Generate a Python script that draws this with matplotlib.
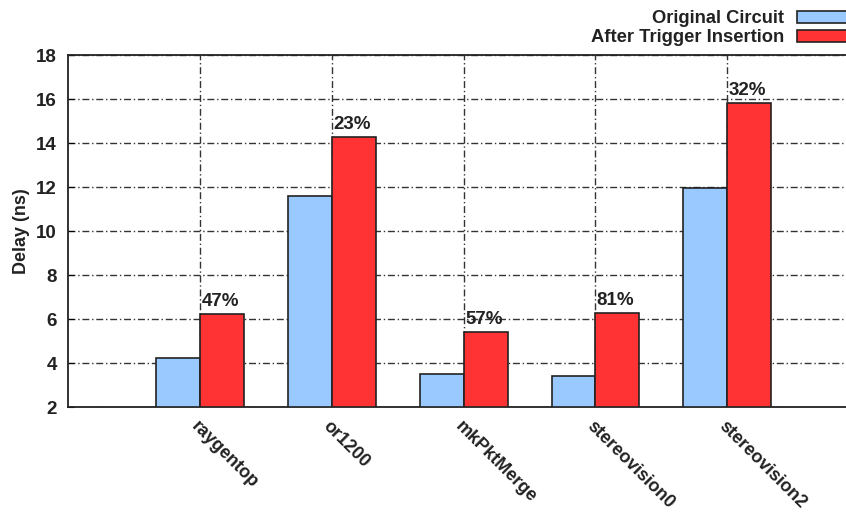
import matplotlib
matplotlib.use("Agg")
import matplotlib.pyplot as plt
import numpy as np

categories = ["raygentop", "or1200", "mkPktMerge", "stereovision0", "stereovision2"]
original = [4.23, 11.6, 3.5, 3.42, 11.95]
after = [6.23, 14.27, 5.42, 6.28, 15.83]
increase_labels = ["47%", "23%", "57%", "81%", "32%"]
series_names = ["Original Circuit", "After Trigger Insertion"]

plt.rcParams['font.family'] = ['Liberation Sans', 'DejaVu Sans']
plt.rcParams['font.weight'] = 'bold'

fig = plt.figure(figsize=(8.46, 5.13), dpi=100)
ax = fig.add_axes([68/846, 106/513, 1 - 68/846, 352/513])

x = np.arange(len(categories))
w = 0.333
b1 = ax.bar(x - w/2, [v - 2 for v in original], w, bottom=2, color='#99c9ff',
            edgecolor='#222222', linewidth=1.2, label=series_names[0], zorder=3)
b2 = ax.bar(x + w/2, [v - 2 for v in after], w, bottom=2, color='#ff3333',
            edgecolor='#222222', linewidth=1.2, label=series_names[1], zorder=3)

for xi, v, t in zip(x, after, increase_labels):
    ax.annotate(t, (xi, v), xytext=(1, 3), textcoords='offset points',
                ha='left', va='bottom', fontsize=13.5, fontweight='bold', color='#222222', zorder=4)

ax.set_xlim(-1, 4.9)
ax.set_ylim(2, 18)
ax.set_yticks(range(2, 19, 2))
ax.set_xticks(x)
ax.set_xticklabels(categories, rotation=-45, ha='left', va='top', rotation_mode='anchor',
                   fontsize=13, fontweight='bold')
for lbl in ax.get_xticklabels():
    lbl.set_color('#222222')
ax.tick_params(axis='x', length=0, pad=8)
ax.tick_params(axis='y', direction='in', length=4, labelsize=13.5, pad=8, labelcolor='#222222')
ax.grid(True, linestyle=(0, (5, 2, 1, 2)), color='#333333', linewidth=1.0, zorder=0)
ax.set_axisbelow(True)
ax.spines['right'].set_visible(False)
for s in ['left', 'top', 'bottom']:
    ax.spines[s].set_linewidth(1.3)
    ax.spines[s].set_color('#222222')

ax.set_ylabel("Delay (ns)", fontsize=13, fontweight='bold', labelpad=4, color='#222222')

leg = ax.legend(loc='lower right', bbox_to_anchor=(1.05, 1.014), frameon=False,
                markerfirst=False, fontsize=13.2, handlelength=4.6, handleheight=0.6,
                labelspacing=0.12, handletextpad=0.7, borderaxespad=0.0, borderpad=0.2)
for t in leg.get_texts():
    t.set_fontweight('bold')
    t.set_color('#222222')

fig.savefig("out.png", dpi=100)
